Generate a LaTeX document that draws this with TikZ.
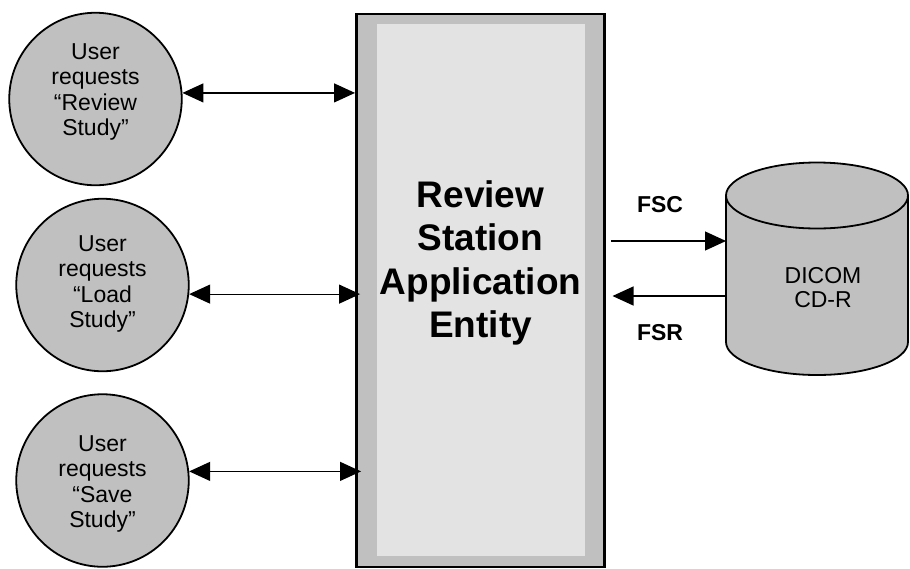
\documentclass[tikz,border=0pt]{standalone}
\usepackage{fontspec}
\setmainfont{Liberation Sans}
\usetikzlibrary{arrows.meta}
\definecolor{silverg}{HTML}{C0C0C0}
\definecolor{lightg}{HTML}{E3E3E3}
\begin{document}
\begin{tikzpicture}[x=1pt,y=-1pt,
  usercirc/.style={circle,draw,line width=1.8pt,fill=silverg,minimum size=172.5pt,inner sep=0pt},
  ctext/.style={align=center,inner sep=0pt,font=\fontsize{23}{25.5}\selectfont},
  link/.style={line width=1.2pt,{Triangle[length=21pt,width=19pt]}-{Triangle[length=21pt,width=19pt]}},
  flow/.style={line width=1.2pt,-{Triangle[length=21pt,width=19pt]}},
  lbl/.style={inner sep=0pt,font=\bfseries\fontsize{23}{25}\selectfont}
]
\useasboundingbox (0,0) rectangle (910,568);
% application entity box
\node[draw,line width=2.5pt,fill=silverg,minimum width=248.25pt,minimum height=552.75pt,inner sep=0pt] (rect) at (480.4,290.6) {};
\node[fill=lightg,minimum width=208pt,minimum height=532pt,inner sep=0pt] (inner) at (481,290) {};
\node[align=center,inner sep=0pt,font=\bfseries\fontsize{37}{43.5}\selectfont] (title) at (480.5,263) {Review\\Station\\Application\\Entity};
% user circles
\node[usercirc] (c1) at (95.5,99) {};
\node[usercirc] (c2) at (102.5,285) {};
\node[usercirc] (c3) at (102.5,480.5) {};
\node[ctext] (t1) at (95.5,92) {User\\requests\\“Review\\Study”};
\node[ctext] (t2) at (102.5,284) {User\\requests\\“Load\\Study”};
\node[ctext] (t3) at (102.5,484) {User\\requests\\“Save\\Study”};
% links
\draw[link] (c1.4.4) -- (c1.4.4 -| rect.west);
\draw[link,shorten >=-5pt] (c2.-6.6) -- (c2.-6.6 -| rect.west);
\draw[link,shorten >=-6pt] (c3.6.5) -- (c3.6.5 -| rect.west);
% cylinder
\path[fill=silverg,draw=black,line width=1.8pt] (726,195.5) -- (726,342)
  arc[start angle=180,end angle=360,x radius=91pt,y radius=33pt] -- (908,195.5)
  arc[start angle=0,end angle=180,x radius=91pt,y radius=33pt] -- cycle;
\draw[line width=1.8pt] (726,195.5) arc[start angle=180,end angle=360,x radius=91pt,y radius=33pt];
\node[align=center,inner sep=0pt,font=\fontsize{23}{24}\selectfont] (cd) at (823,288) {DICOM\\CD-R};
\coordinate (cdA) at (726,241);
\coordinate (cdB) at (726,296);
\coordinate (fscA) at (611,241);
\coordinate (fsrB) at (612.5,296);
\draw[flow] (fscA) -- (cdA);
\draw[flow] (cdB) -- (fsrB);
\node[lbl,anchor=base] (fsc) at (660,212) {FSC};
\node[lbl,anchor=base] (fsr) at (660,340) {FSR};
\end{tikzpicture}
\end{document}
